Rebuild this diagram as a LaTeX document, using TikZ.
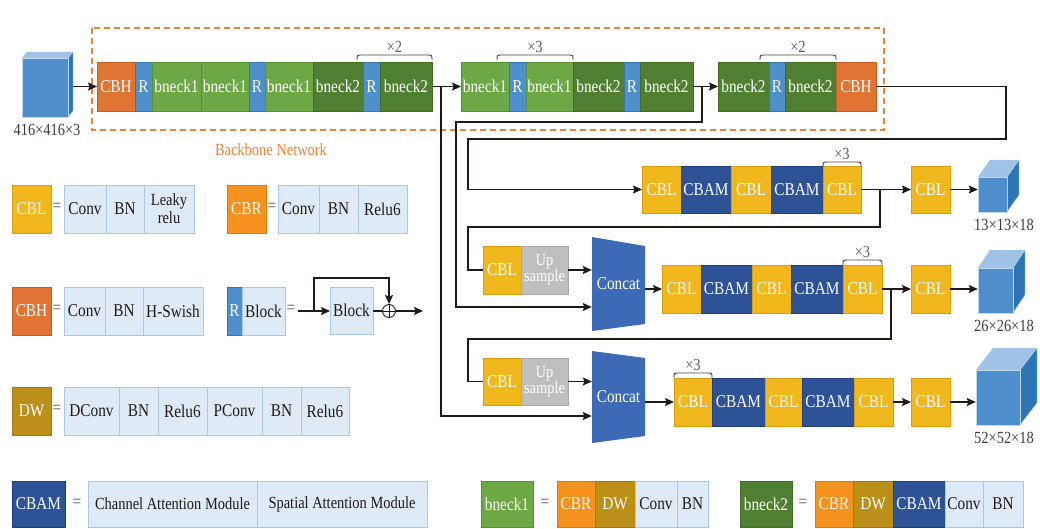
\documentclass[tikz,border=0pt]{standalone}
\usepackage{fontspec}
\setmainfont{Liberation Serif}[FakeStretch=0.85]
\usetikzlibrary{arrows.meta}
\definecolor{cY}{HTML}{F1B81E}
\definecolor{cYd}{HTML}{D79E10}
\definecolor{cB}{HTML}{2D5295}
\definecolor{cBd}{HTML}{1F3F78}
\definecolor{gA}{HTML}{6CA843}
\definecolor{gAd}{HTML}{5A9035}
\definecolor{gB}{HTML}{4F7F31}
\definecolor{gBd}{HTML}{416B27}
\definecolor{rB}{HTML}{4F8FCB}
\definecolor{rBd}{HTML}{3A74AE}
\definecolor{oH}{HTML}{E07434}
\definecolor{oHd}{HTML}{C45F24}
\definecolor{oR}{HTML}{F5921E}
\definecolor{oRd}{HTML}{D97C10}
\definecolor{dW}{HTML}{BC9018}
\definecolor{dWd}{HTML}{A07A10}
\definecolor{lB}{HTML}{DEEAF6}
\definecolor{lBd}{HTML}{A8C8E6}
\definecolor{uG}{HTML}{BFBFBF}
\definecolor{uGd}{HTML}{A8A8A8}
\definecolor{ccB}{HTML}{3D6AB5}
\definecolor{cuF}{HTML}{4E8FCB}
\definecolor{cuT}{HTML}{9EC3E6}
\definecolor{cuS}{HTML}{2F75B5}
\definecolor{cuE}{HTML}{BDD7EE}
\definecolor{dshO}{HTML}{E8843A}
\definecolor{ink}{HTML}{231815}
\newcommand\fs{\fontsize{18}{18}\selectfont}
\newcommand\fss{\fontsize{17}{17}\selectfont}
\newcommand\bx[7]{\node[bxs,#6,minimum width={(#3)-(#2)},minimum height={(#5)-(#4)}] (#1) at ({((#2)+(#3))/2},{((#4)+(#5))/2}) {#7};}
\newcommand\cube[9]{%
  \fill[cuT,draw=cuE] (#2,#4) -- ({#2+#6},{#4-#7}) -- ({#3+#6},{#4-#7}) -- (#3,#4) -- cycle;
  \fill[cuS,draw=cuE] (#3,#4) -- ({#3+#6},{#4-#7}) -- ({#3+#6},{#5-#7}) -- (#3,#5) -- cycle;
  \node[fill=cuF,draw=cuE,inner sep=0,minimum width={(#3)-(#2)},minimum height={(#5)-(#4)}] (#1) at ({((#2)+(#3))/2},{((#4)+(#5))/2}) {};
  \node[font=\fss,text=ink!85] (#1l) at (#9,{#5+13}) {#8};}
\newcommand\brc[5]{%
  \draw[ink!80,line width=0.9pt] (#2,{#4+5}) .. controls (#2,#4) .. ({#2+5},#4) -- ({#3-5},#4) .. controls (#3,#4) .. (#3,{#4+5});
  \node[font=\fss,text=ink!70] (#1) at ({((#2)+(#3))/2},{#4-8}) {#5};}
\tikzset{
  bxs/.style={rectangle,inner sep=0pt,outer sep=0pt,font=\fs,align=center,line width=0.8pt},
  cbl/.style={fill=cY,draw=cYd,text=white},
  cbam/.style={fill=cB,draw=cBd,text=white},
  bna/.style={fill=gA,draw=gAd,text=white},
  bnb/.style={fill=gB,draw=gBd,text=white},
  rr/.style={fill=rB,draw=rBd,text=white},
  cbh/.style={fill=oH,draw=oHd,text=white},
  cbr/.style={fill=oR,draw=oRd,text=white},
  dw/.style={fill=dW,draw=dWd,text=white},
  lt/.style={fill=lB,draw=lBd,text=ink},
  up/.style={fill=uG,draw=uGd,text=white,font=\fss},
  ln/.style={draw=ink,line width=1.1pt},
  arr/.style={ln,-{Stealth[length=9pt,width=8pt,inset=1.5pt]}},
  eqs/.style={font=\fs,text=ink!70},
}
\begin{document}
\begin{tikzpicture}[x=1pt,y=-1pt]
\useasboundingbox[fill=white] (0,0) rectangle (1040,528);
% backbone frame
\draw[draw=dshO,line width=1.2pt,dash pattern=on 6pt off 4pt] (92,28) rectangle (884,130);
\node[font=\fss,text=dshO] (bbn) at (271,150) {Backbone Network};
% input cube
\cube{in0}{22}{68}{58}{117}{5}{6}{416×416×3}{47}
% row 1
\bx{a1}{97}{135}{62}{111}{cbh}{CBH}
\bx{a2}{135}{152}{62}{111}{rr}{R}
\bx{a3}{152}{201}{62}{111}{bna}{bneck1}
\bx{a4}{201}{249}{62}{111}{bna}{bneck1}
\bx{a5}{249}{265}{62}{111}{rr}{R}
\bx{a6}{265}{313}{62}{111}{bna}{bneck1}
\bx{a7}{313}{363}{62}{111}{bnb}{bneck2}
\bx{a8}{363}{380}{62}{111}{rr}{R}
\bx{a9}{380}{432}{62}{111}{bnb}{bneck2}
\brc{t1}{357}{432}{55}{×2}
% row 2
\bx{b1}{461}{509}{62}{111}{bna}{bneck1}
\bx{b2}{509}{526}{62}{111}{rr}{R}
\bx{b3}{526}{573}{62}{111}{bna}{bneck1}
\bx{b4}{573}{624}{62}{111}{bnb}{bneck2}
\bx{b5}{624}{640}{62}{111}{rr}{R}
\bx{b6}{640}{693}{62}{111}{bnb}{bneck2}
\brc{t2}{497}{573}{55}{×3}
% row 3
\bx{c1}{718}{769}{62}{111}{bnb}{bneck2}
\bx{c2}{769}{785}{62}{111}{rr}{R}
\bx{c3}{785}{836}{62}{111}{bnb}{bneck2}
\bx{c4}{836}{876}{62}{111}{cbh}{CBH}
\brc{t3}{760}{836}{55}{×2}
% neck row 1
\bx{n1}{642}{681}{166}{213}{cbl}{CBL}
\bx{n2}{681}{731}{166}{213}{cbam}{CBAM}
\bx{n3}{731}{771}{166}{213}{cbl}{CBL}
\bx{n4}{771}{823}{166}{213}{cbam}{CBAM}
\bx{n5}{823}{861}{166}{213}{cbl}{CBL}
\brc{t4}{823}{861}{162}{×3}
\bx{o1}{911}{950}{166}{213}{cbl}{CBL}
\cube{q1}{978}{1007}{177}{212}{12}{17}{13×13×18}{1004}
% neck row 2
\bx{m1}{662}{701}{265}{313}{cbl}{CBL}
\bx{m2}{701}{752}{265}{313}{cbam}{CBAM}
\bx{m3}{752}{791}{265}{313}{cbl}{CBL}
\bx{m4}{791}{843}{265}{313}{cbam}{CBAM}
\bx{m5}{843}{882}{265}{313}{cbl}{CBL}
\brc{t5}{843}{882}{260}{×3}
\bx{o2}{911}{950}{265}{313}{cbl}{CBL}
\cube{q2}{978}{1013}{268}{313}{12}{18}{26×26×18}{1004}
% neck row 3
\bx{k1}{674}{712}{378}{426}{cbl}{CBL}
\bx{k2}{712}{765}{378}{426}{cbam}{CBAM}
\bx{k3}{765}{802}{378}{426}{cbl}{CBL}
\bx{k4}{802}{854}{378}{426}{cbam}{CBAM}
\bx{k5}{854}{893}{378}{426}{cbl}{CBL}
\brc{t6}{674}{712}{373}{×3}
\bx{o3}{911}{950}{378}{426}{cbl}{CBL}
\cube{q3}{976}{1020}{370}{425}{17}{22}{52×52×18}{1004}
% upsample groups
\bx{u1}{483}{521}{246}{294}{cbl}{CBL}
\bx{u1b}{521}{568}{246}{294}{up}{Up\\[-1pt]sample}
\bx{u2}{483}{521}{358}{405}{cbl}{CBL}
\bx{u2b}{521}{568}{358}{405}{up}{Up\\[-1pt]sample}
% concat
\fill[ccB] (592,237) -- (645,246) -- (645,324) -- (592,331) -- cycle;
\node[font=\fs,text=white,minimum width=53,minimum height=94,inner sep=0] (cc1) at (618.5,284) {Concat};
\fill[ccB] (592,351) -- (645,358) -- (645,436) -- (592,443) -- cycle;
\node[font=\fs,text=white,minimum width=53,minimum height=92,inner sep=0] (cc2) at (618.5,397) {Concat};
% connectors
\draw[arr] (in0.east |- a1.west) ++(5,0) -- (a1.west);
\draw[arr] (a9.east) -- (b1.west);
\draw[arr] (b6.east) -- (c1.west);
\coordinate (j1) at (441,86.5);
\coordinate (j1b) at (441,416);
\draw[arr] (j1) -- (j1b) -- (j1b -| cc2.west);
\coordinate (j2) at (702,86.5);
\coordinate (j2a) at (702,122);
\coordinate (j2b) at (456,122);
\coordinate (j2c) at (456,307);
\draw[arr] (j2) -- (j2a) -- (j2b) -- (j2c) -- (j2c -| cc1.west);
\coordinate (j3a) at (1006,86.5);
\coordinate (j3b) at (1006,139);
\coordinate (j3c) at (468,139);
\draw[arr] (c4.east) -- (j3a) -- (j3b) -- (j3c) -- (j3c |- n1.west) -- (n1.west);
\draw[arr] (n5.east) -- (o1.west);
\draw[arr] (o1.east) -- (o1.east -| q1.west);
\coordinate (j4) at (880,189.5);
\coordinate (j4a) at (880,227);
\coordinate (j4b) at (468,227);
\draw[ln] (j4) -- (j4a) -- (j4b) -- (j4b |- u1.west) -- (u1.west);
\draw[arr] (u1b.east) -- (u1b.east -| cc1.west);
\draw[arr] (cc1.east |- m1.west) -- (m1.west);
\draw[arr] (m5.east) -- (o2.west);
\draw[arr] (o2.east) -- (o2.east -| q2.west);
\coordinate (j5) at (891,289);
\coordinate (j5a) at (891,339);
\coordinate (j5b) at (468,339);
\draw[ln] (j5) -- (j5a) -- (j5b) -- (j5b |- u2.west) -- (u2.west);
\draw[arr] (u2b.east) -- (u2b.east -| cc2.west);
\draw[arr] (cc2.east |- k1.west) -- (k1.west);
\draw[arr] (k5.east) -- (o3.west);
\draw[arr] (o3.east) -- (o3.east -| q3.west);
% legends
\bx{lg1}{12}{51}{185}{233}{cbl}{CBL}
\node[eqs] (e1) at (57,207) {=};
\bx{lg1a}{64}{106}{185}{233}{lt}{Conv}
\bx{lg1b}{106}{144}{185}{233}{lt}{BN}
\bx{lg1c}{144}{194}{185}{233}{lt,font=\fss}{Leaky\\[1pt]relu}
\bx{lg2}{227}{266}{185}{233}{cbr}{CBR}
\node[eqs] (e2) at (272,207) {=};
\bx{lg2a}{278}{319}{185}{233}{lt}{Conv}
\bx{lg2b}{319}{358}{185}{233}{lt}{BN}
\bx{lg2c}{358}{407}{185}{233}{lt}{Relu6}
\bx{lg3}{12}{51}{287}{335}{cbh}{CBH}
\node[eqs] (e3) at (57,309) {=};
\bx{lg3a}{64}{105}{287}{335}{lt}{Conv}
\bx{lg3b}{105}{143}{287}{335}{lt}{BN}
\bx{lg3c}{143}{203}{287}{335}{lt}{H-Swish}
\bx{lg4}{227}{242}{287}{335}{rr}{R}
\bx{lg4a}{242}{285}{287}{335}{lt}{Block}
\node[eqs] (e4) at (291,309) {=};
\bx{lg4b}{330}{373}{287}{334}{lt}{Block}
\node[circle,draw=ink,line width=0.9pt,minimum size=13pt,inner sep=0] (op) at (389,311) {};
\draw[ink,line width=0.9pt] (op.north) -- (op.south) (op.west) -- (op.east);
\coordinate (r0) at (298,311);
\coordinate (r1) at (314,311);
\coordinate (r2) at (314,278);
\coordinate (r3) at (389,278);
\coordinate (r4) at (423,311);
\draw[arr] (r0) -- (lg4b.west |- r0);
\draw[arr] (r1) -- (r2) -- (r3) -- (op.north);
\draw[ln] (lg4b.east |- op.west) -- (op.west);
\draw[arr] (op.east) -- (r4);
\bx{lg5}{12}{51}{387}{435}{dw}{DW}
\node[eqs] (e5) at (57,409) {=};
\bx{lg5a}{64}{119}{387}{435}{lt}{DConv}
\bx{lg5b}{119}{158}{387}{435}{lt}{BN}
\bx{lg5c}{158}{207}{387}{435}{lt}{Relu6}
\bx{lg5d}{207}{262}{387}{435}{lt}{PConv}
\bx{lg5e}{262}{301}{387}{435}{lt}{BN}
\bx{lg5f}{301}{349}{387}{435}{lt}{Relu6}
% bottom legends
\bx{lg6}{12}{65}{481}{527}{cbam}{CBAM}
\node[eqs] (e6) at (77,503) {=};
\bx{lg6a}{88}{257}{481}{527}{lt,font=\fss}{Channel Attention Module}
\bx{lg6b}{257}{427}{481}{527}{lt,font=\fss}{Spatial Attention Module}
\bx{lg7}{481}{533}{481}{527}{bna}{bneck1}
\node[eqs] (e7) at (545,503) {=};
\bx{lg7a}{557}{595}{481}{527}{cbr}{CBR}
\bx{lg7b}{595}{635}{481}{527}{dw}{DW}
\bx{lg7c}{635}{677}{481}{527}{lt}{Conv}
\bx{lg7d}{677}{708}{481}{527}{lt}{BN}
\bx{lg8}{740}{792}{481}{527}{bnb}{bneck2}
\node[eqs] (e8) at (803,503) {=};
\bx{lg8a}{815}{853}{481}{527}{cbr}{CBR}
\bx{lg8b}{853}{893}{481}{527}{dw}{DW}
\bx{lg8c}{893}{945}{481}{527}{cbam}{CBAM}
\bx{lg8d}{945}{983}{481}{527}{lt}{Conv}
\bx{lg8e}{983}{1023}{481}{527}{lt}{BN}
\end{tikzpicture}
\end{document}
